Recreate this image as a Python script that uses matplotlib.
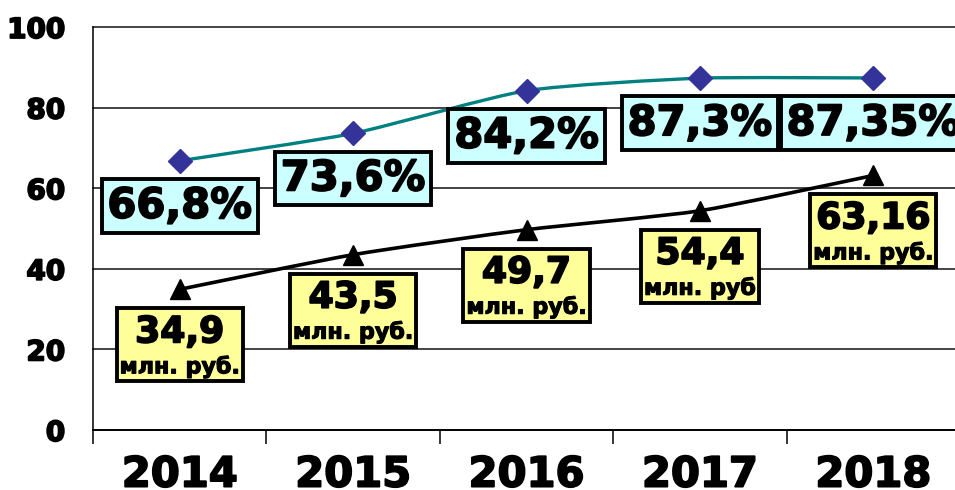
import matplotlib
matplotlib.use("Agg")
import matplotlib.pyplot as plt
import matplotlib.transforms as mtransforms
import matplotlib.patheffects as pe
from matplotlib.path import Path
from matplotlib.patches import PathPatch, Rectangle
from matplotlib.transforms import Bbox

# ---- data ----
years = ["2014", "2015", "2016", "2017", "2018"]
share_pct = [66.8, 73.6, 84.2, 87.3, 87.35]
amount_mln = [34.9, 43.5, 49.7, 54.4, 63.16]
amount_units = ["млн. руб.", "млн. руб.", "млн. руб.", "млн. руб", "млн. руб."]
y_ticks = [0, 20, 40, 60, 80, 100]

FONT = ["DejaVu Sans Condensed", "DejaVu Sans"]
plt.rcParams["font.family"] = FONT
plt.rcParams["font.weight"] = "bold"

TEAL = "#008080"
NAVY = "#333399"
CYAN_FILL = "#CCFFFF"
YELLOW_FILL = "#FFFF99"

# thicken the bold glyphs a little
HEAVY = [pe.withStroke(linewidth=1.3, foreground="black")]


def smooth_path(xs, ys, k=0.1):
    """Cubic Bezier path through the points (Catmull-Rom style smoothing)."""
    pts = list(zip(xs, ys))
    verts = [pts[0]]
    codes = [Path.MOVETO]
    n = len(pts)
    for i in range(n - 1):
        p0 = pts[i - 1] if i > 0 else pts[i]
        p1 = pts[i]
        p2 = pts[i + 1]
        p3 = pts[i + 2] if i + 2 < n else pts[i + 1]
        c1 = (p1[0] + (p2[0] - p0[0]) * k, p1[1] + (p2[1] - p0[1]) * k)
        c2 = (p2[0] - (p3[0] - p1[0]) * k, p2[1] - (p3[1] - p1[1]) * k)
        verts += [c1, c2, p2]
        codes += [Path.CURVE4] * 3
    return Path(verts, codes)


fig = plt.figure(figsize=(9.55, 4.9), dpi=100)
ax = fig.add_axes([93 / 955, 60 / 490, 867 / 955, 403 / 490])

x = list(range(len(years)))
ax.set_xlim(-0.5, len(years) - 0.5)
ax.set_ylim(0, 100)

# grid and spines
for v in y_ticks[1:]:
    ax.axhline(v, color="#111111", lw=1.1, zorder=1, clip_on=False)
for s in ["top", "right"]:
    ax.spines[s].set_visible(False)
ax.spines["left"].set_linewidth(1.1)
ax.spines["bottom"].set_linewidth(1.4)

ax.set_yticks(y_ticks)
ax.set_yticklabels([str(v) for v in y_ticks], fontsize=20, fontweight="bold")
ax.tick_params(axis="y", length=0, pad=20)

ax.set_xticks([i - 0.5 for i in x])
ax.set_xticklabels([])
ax.set_xticks(x, minor=True)
ax.set_xticklabels(years, minor=True, fontsize=30, fontweight="bold")
ax.tick_params(axis="x", which="major", length=10, width=1.1, direction="out")
ax.tick_params(axis="x", which="minor", length=0, pad=17)
for lbl in ax.get_yticklabels() + ax.get_xticklabels(minor=True):
    lbl.set_path_effects(HEAVY)

# smoothed lines with markers
ax.add_patch(PathPatch(smooth_path(x, share_pct), fill=False, ec=TEAL, lw=2.4, zorder=3))
ax.plot(x, share_pct, ls="none", marker="D", ms=12, color=NAVY, zorder=4, clip_on=False)
ax.add_patch(PathPatch(smooth_path(x, amount_mln), fill=False, ec="black", lw=2.6, zorder=3))
ax.plot(x, amount_mln, ls="none", marker="^", ms=15, color="black", zorder=4, clip_on=False)

# percentage labels
for xi, v in zip(x, share_pct):
    ax.annotate(f"{str(v).replace('.', ',')}%", (xi, v), xytext=(0, -57),
                textcoords="offset pixels", ha="center", va="baseline",
                fontsize=30, fontweight="bold", zorder=6, annotation_clip=False,
                path_effects=HEAVY,
                bbox=dict(boxstyle="square,pad=0.14", fc=CYAN_FILL, ec="black", lw=2.8))

# amount labels: number + unit in one framed box
label_groups = []
for xi, v, unit in zip(x, amount_mln, amount_units):
    t1 = ax.annotate(str(v).replace(".", ","), (xi, v), xytext=(0, -53),
                     textcoords="offset pixels", ha="center", va="baseline",
                     fontsize=26, fontweight="bold", zorder=6, annotation_clip=False,
                     path_effects=HEAVY)
    t2 = ax.annotate(unit, (xi, v), xytext=(0, -84),
                     textcoords="offset pixels", ha="center", va="baseline",
                     fontsize=16, fontweight="bold", zorder=6, annotation_clip=False,
                     path_effects=[pe.withStroke(linewidth=0.8, foreground="black")])
    label_groups.append((t1, t2))

fig.canvas.draw()
renderer = fig.canvas.get_renderer()
for t1, t2 in label_groups:
    bb = Bbox.union([t1.get_window_extent(renderer), t2.get_window_extent(renderer)])
    padx, pad_top, pad_bottom = 3, 7, 4
    rect = Rectangle((bb.x0 - padx, bb.y0 - pad_bottom), bb.width + 2 * padx,
                     bb.height + pad_top + pad_bottom,
                     transform=mtransforms.IdentityTransform(), fc=YELLOW_FILL,
                     ec="black", lw=2.8, zorder=5, clip_on=False)
    ax.add_patch(rect)

fig.savefig("out.png", dpi=100)
